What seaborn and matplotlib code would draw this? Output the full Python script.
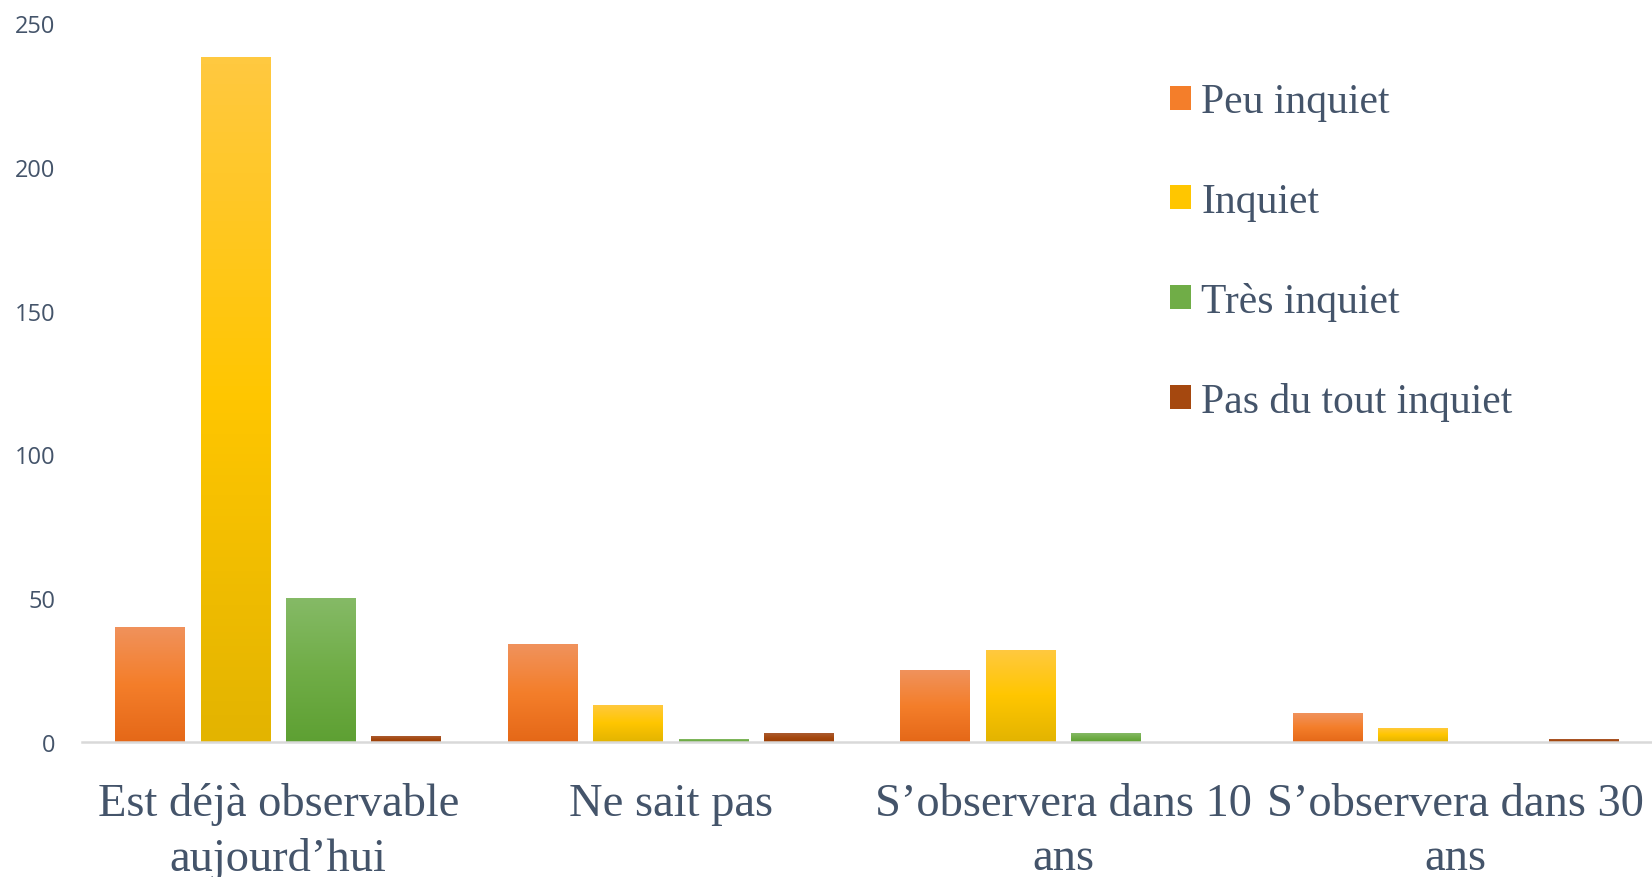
import numpy as np
import pandas as pd
import matplotlib.pyplot as plt
import seaborn as sns
from matplotlib.patches import Patch
from matplotlib.colors import LinearSegmentedColormap

sns.set_theme(style="white")

# ----------------------------------------------------------------------
# DATA
# ----------------------------------------------------------------------
categories = ["Est déjà observable\naujourd’hui", "Ne sait pas",
              "S’observera dans 10\nans", "S’observera dans 30\nans"]
series = ["Peu inquiet", "Inquiet", "Très inquiet", "Pas du tout inquiet"]
peu_inquiet = [40, 34, 25, 10]
inquiet = [238, 13, 32, 5]
tres_inquiet = [50, 1, 3, 0]
pas_du_tout = [2, 3, 0, 1]

colors = ["#F47E2A", "#FFC600", "#70AD47", "#A5480F"]
# top / bottom shades for the vertical gradient
tops = ["#F0925C", "#FFC940", "#85BA66", "#AA5A30"]
bottoms = ["#E56818", "#E3B400", "#5EA033", "#9C3E05"]

df = pd.DataFrame({
    "categorie": categories * 4,
    "serie": np.repeat(series, 4),
    "valeur": peu_inquiet + inquiet + tres_inquiet + pas_du_tout,
})

text_col = "#44546A"

# ----------------------------------------------------------------------
# PLOT
# ----------------------------------------------------------------------
fig = plt.figure(figsize=(16.52, 8.78), dpi=100)
ax = fig.add_axes([0.0496, 0.1538, 0.9504, 0.8189])

sns.barplot(data=df, x="categorie", y="valeur", hue="serie",
            order=categories, hue_order=series, palette=colors,
            width=0.87, gap=0.185, saturation=1, ax=ax, legend=False)

# gradient fill inside each bar
for i, cont in enumerate(ax.containers):
    cmap = LinearSegmentedColormap.from_list("g", [bottoms[i], colors[i], tops[i]])
    for bar in cont:
        h = bar.get_height()
        if h <= 0:
            continue
        x0 = bar.get_x()
        w = bar.get_width()
        grad = np.linspace(0, 1, 100).reshape(-1, 1)
        im = ax.imshow(grad, extent=(x0, x0 + w, 0, h), origin="lower",
                       cmap=cmap, aspect="auto", zorder=bar.get_zorder())
        im.set_clip_path(bar)
        bar.set_facecolor("none")
        bar.set_edgecolor("none")

ax.set_xlim(-0.5, 3.5)
ax.set_ylim(0, 250)
ax.set_yticks([0, 50, 100, 150, 200, 250])
ax.set_xlabel("")
ax.set_ylabel("")

for side in ["top", "right", "left"]:
    ax.spines[side].set_visible(False)
ax.spines["bottom"].set_color("#D9D9D9")
ax.spines["bottom"].set_linewidth(1.8)
ax.spines["bottom"].set_zorder(5)

ax.tick_params(axis="both", length=0)
ax.tick_params(axis="y", pad=19, labelcolor=text_col)
ax.tick_params(axis="x", pad=29, labelcolor=text_col)
for lab in ax.get_yticklabels():
    lab.set_fontfamily("Open Sans")
    lab.set_fontsize(17)
for lab in ax.get_xticklabels():
    lab.set_fontfamily("Liberation Serif")
    lab.set_fontsize(33.5)
    lab.set_linespacing(1.35)

handles = [Patch(facecolor=c, edgecolor="none") for c in colors]
leg = fig.legend(handles, series, loc="upper left",
                 bbox_to_anchor=(1170 / 1652, 1 - 84 / 878),
                 frameon=False, borderpad=0, borderaxespad=0,
                 handlelength=0.5, handleheight=0.5, handletextpad=0.25,
                 labelspacing=1.46,
                 prop={"family": "Liberation Serif", "size": 30})
for t in leg.get_texts():
    t.set_color(text_col)

fig.savefig("out.png", dpi=100, facecolor="white")
